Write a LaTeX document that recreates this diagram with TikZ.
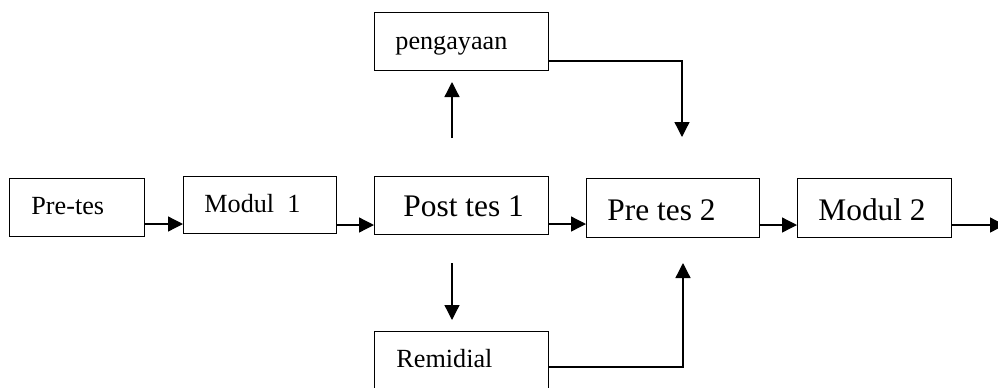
\documentclass[tikz,border=0pt]{standalone}
\usepackage{fontspec}
\setmainfont{Liberation Serif}
\usetikzlibrary{arrows.meta}
\tikzset{
  box/.style={draw, line width=0.65pt, inner sep=0pt, anchor=north west},
  txt/.style={anchor=base west, inner sep=0pt, font=\fontsize{13.1}{15}\selectfont},
  bigtxt/.style={anchor=base west, inner sep=0pt, font=\fontsize{15.7}{18}\selectfont},
  arr/.style={line width=0.65pt, -{Triangle[length=7.5pt,width=7.5pt]}},
  ln/.style={line width=0.65pt}
}
\begin{document}
\begin{tikzpicture}[x=0.5pt,y=-0.5pt]
\useasboundingbox (0,0) rectangle (998,387);
\clip (0,0) rectangle (998,387);
% boxes
\node[box, minimum width=67.5pt, minimum height=29pt] (pre) at (9,178) {};
\node[box, minimum width=76.5pt, minimum height=28.5pt] (mod1) at (183,176) {};
\node[box, minimum width=87pt, minimum height=29pt] (post) at (374,176) {};
\node[box, minimum width=86.5pt, minimum height=29.5pt] (pre2) at (586,178) {};
\node[box, minimum width=77pt, minimum height=29.5pt] (mod2) at (797,178) {};
\node[box, minimum width=87pt, minimum height=29pt] (peng) at (374,12) {};
\node[box, minimum width=87pt, minimum height=35pt] (rem) at (374,331) {};
% texts
\node[txt] (preT) at (31,214) {Pre-tes};
\node[txt] (mod1T) at (204,212) {Modul\ \ 1};
\node[bigtxt] (postT) at (403,216.7) {Post tes 1};
\node[bigtxt] (pre2T) at (607,220) {Pre tes 2};
\node[bigtxt] (mod2T) at (818,220) {Modul 2};
\node[txt] (pengT) at (395,49) {pengayaan};
\node[txt] (remT) at (396,367) {Remidial};
% free ends
\coordinate (upS) at (452,138);
\coordinate (upE) at (452,82);
\coordinate (dnS) at (452,263);
\coordinate (dnE) at (452,320);
\coordinate (pgC) at (682,61);
\coordinate (pgE) at (682,137);
\coordinate (rmC) at (683,367);
\coordinate (rmE) at (683,263);
\coordinate (outE) at (1005,225);
% connectors
\draw[arr] (pre.east |- 0,224) -- (mod1.west |- 0,224);
\draw[arr] (mod1.east |- 0,225) -- (post.west |- 0,225);
\draw[arr] (post.east |- 0,224) -- (pre2.west |- 0,224);
\draw[arr] (pre2.east |- 0,225) -- (mod2.west |- 0,225);
\draw[arr] (mod2.east |- 0,225) -- (outE);
\draw[arr] (upS) -- (upE);
\draw[arr] (dnS) -- (dnE);
\draw[arr] (peng.east |- pgC) -- (pgC) -- (pgE);
\draw[arr] (rem.east |- rmC) -- (rmC) -- (rmE);
\end{tikzpicture}
\end{document}
